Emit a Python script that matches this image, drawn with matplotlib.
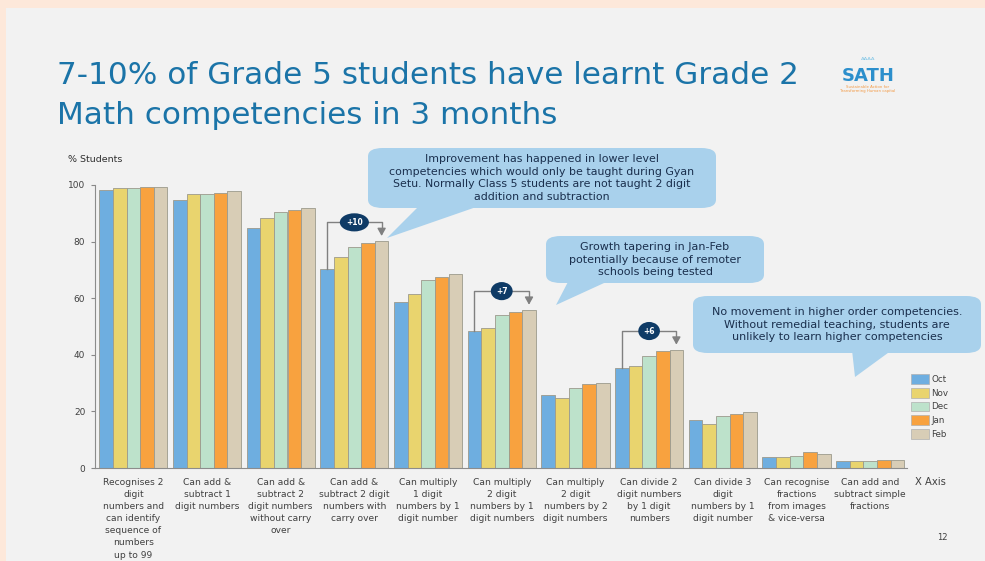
import matplotlib
matplotlib.use("Agg")
import matplotlib.pyplot as plt
import numpy as np
from matplotlib.patches import FancyBboxPatch, Polygon, Rectangle, Patch

W, H = 985, 561
plt.rcParams['font.family'] = ['DejaVu Sans']

categories = [
    "Recognises 2\ndigit\nnumbers and\ncan identify\nsequence of\nnumbers\nup to 99",
    "Can add &\nsubtract 1\ndigit numbers",
    "Can add &\nsubtract 2\ndigit numbers\nwithout carry\nover",
    "Can add &\nsubtract 2 digit\nnumbers with\ncarry over",
    "Can multiply\n1 digit\nnumbers by 1\ndigit number",
    "Can multiply\n2 digit\nnumbers by 1\ndigit numbers",
    "Can multiply\n2 digit\nnumbers by 2\ndigit numbers",
    "Can divide 2\ndigit numbers\nby 1 digit\nnumbers",
    "Can divide 3\ndigit\nnumbers by 1\ndigit number",
    "Can recognise\nfractions\nfrom images\n& vice-versa",
    "Can add and\nsubtract simple\nfractions",
]
months = ["Oct", "Nov", "Dec", "Jan", "Feb"]
oct_vals = [98.2, 94.7, 84.7, 70.3, 58.8, 48.5, 25.9, 35.3, 17.0, 3.9, 2.3]
nov_vals = [98.8, 96.7, 88.5, 74.7, 61.5, 49.4, 24.9, 35.9, 15.5, 3.9, 2.3]
dec_vals = [98.8, 96.7, 90.6, 78.0, 66.5, 53.9, 28.2, 39.6, 18.2, 4.3, 2.3]
jan_vals = [99.4, 97.3, 91.2, 79.4, 67.6, 55.3, 29.8, 41.4, 19.1, 5.5, 2.9]
feb_vals = [99.4, 97.9, 91.8, 80.2, 68.6, 55.9, 30.2, 41.8, 19.8, 5.0, 2.8]
series = [oct_vals, nov_vals, dec_vals, jan_vals, feb_vals]
colors = ["#6eaee0", "#e9d46e", "#bde2cb", "#f8a23f", "#d8cdb6"]
yticks = [0, 20, 40, 60, 80, 100]
gains = [(3, "+10"), (5, "+7"), (7, "+6")]

fig = plt.figure(figsize=(W / 100, H / 100), dpi=100)
fig.patch.set_facecolor("#f2f2f2")

def fx(x):
    return x / W

def fy(y):
    return 1 - y / H

# peach slide border
fig.add_artist(Rectangle((0, fy(8)), 1, 8 / H, transform=fig.transFigure,
                         facecolor="#fde8da", edgecolor="none", zorder=0))
fig.add_artist(Rectangle((0, 0), 6 / W, 1, transform=fig.transFigure,
                         facecolor="#fde8da", edgecolor="none", zorder=0))

# title
tcol = "#1b74a8"
fig.text(fx(57), fy(76), "7-10% of Grade 5 students have learnt Grade 2",
         fontsize=22.4, color=tcol, va="center", ha="left")
fig.text(fx(57), fy(115), "Math competencies in 3 months",
         fontsize=22.4, color=tcol, va="center", ha="left")

# logo
fig.text(fx(868), fy(76), "SATH", fontsize=13, fontweight="bold",
         color="#2c8fcc", ha="center", va="center")
fig.text(fx(868), fy(61), "ᴬᴬᴬᴬ", fontsize=6, color="#7cc4e6", ha="center", va="center")
fig.text(fx(868), fy(89), "Sustainable Action for\nTransforming Human capital",
         fontsize=2.8, color="#f39a45", ha="center", va="center", linespacing=1.0)

ax = fig.add_axes([fx(95), 1 - 468 / H, 812 / W, 283 / H])
ax.set_facecolor("none")
x = np.arange(len(categories))
w = 0.185
for k, (vals, c, m) in enumerate(zip(series, colors, months)):
    ax.bar(x + (k - 2) * w, vals, width=w, color=c, edgecolor="#9c9a8c",
           linewidth=0.6, label=m, zorder=2)

ax.set_xlim(-0.52, 10.5)
ax.set_ylim(0, 100)
ax.set_yticks(yticks)
ax.set_yticklabels([str(v) for v in yticks], fontsize=6.5, color="#404040")
ax.set_xticks(x)
ax.set_xticklabels(categories, fontsize=6.6, color="#404040", linespacing=1.45,
                   va="top")
ax.tick_params(axis="x", length=0, pad=7)
ax.tick_params(axis="y", length=3, color="#888888", pad=4)
for s in ["top", "right"]:
    ax.spines[s].set_visible(False)
for s in ["left", "bottom"]:
    ax.spines[s].set_color("#8c8c8c")
    ax.spines[s].set_linewidth(0.8)

fig.text(fx(68), fy(160), "% Students", fontsize=6.8, color="#303030",
         ha="left", va="center")
fig.text(fx(930), fy(482), "X Axis", fontsize=7.2, color="#404040",
         ha="center", va="center")
fig.text(fx(942), fy(537), "12", fontsize=6, color="#404040",
         ha="center", va="center")

# gain brackets
for gi, lab in gains:
    x0 = gi - 2 * w
    x1 = gi + 2 * w
    ytop = series[4][gi] + 6.6
    ax.plot([x0, x0, x1, x1], [series[0][gi], ytop, ytop, ytop - 2.5],
            color="#808080", lw=1.0, zorder=3, clip_on=False)
    ax.annotate("", xy=(x1, series[4][gi] + 0.8), xytext=(x1, ytop - 2.0),
                arrowprops=dict(arrowstyle="-|>,head_width=0.25,head_length=0.45",
                                color="#808080", lw=1.0), zorder=3)
    ax.text((x0 + x1) / 2, ytop, lab, fontsize=5.5, color="white",
            fontweight="bold", ha="center", va="center", zorder=5,
            bbox=dict(boxstyle="ellipse,pad=0.25", facecolor="#0f3b66",
                      edgecolor="none"))

# legend
handles = [Patch(facecolor=c, edgecolor="#b0b0b0", linewidth=0.5) for c in colors]
fig.legend(handles, months, loc="upper left", bbox_to_anchor=(fx(911), fy(374)),
           frameon=False, fontsize=6.3, handlelength=2.1, handleheight=1.35,
           labelspacing=0.45, handletextpad=0.25, borderpad=0, borderaxespad=0,
           labelcolor="#404040")

# callouts
bfill = "#a9d1ec"
tcolor = "#1a2f4d"

def callout(x0, y0, x1, y1, tail, text, fs):
    fig.add_artist(Polygon([(fx(px), fy(py)) for px, py in tail],
                           closed=True, transform=fig.transFigure,
                           facecolor=bfill, edgecolor="none", zorder=6))
    fig.add_artist(FancyBboxPatch((fx(x0), fy(y1)), fx(x1) - fx(x0), fy(y0) - fy(y1),
                                  boxstyle="round,pad=0,rounding_size=0.015",
                                  transform=fig.transFigure, facecolor=bfill,
                                  edgecolor="none", zorder=6))
    fig.text(fx((x0 + x1) / 2), fy((y0 + y1) / 2), text, fontsize=fs,
             color=tcolor, ha="center", va="center", linespacing=1.3,
             zorder=7)

callout(368, 148, 716, 208,
        [(420, 205), (482, 205), (387, 238)],
        "Improvement has happened in lower level\n"
        "competencies which would only be taught during Gyan\n"
        "Setu. Normally Class 5 students are not taught 2 digit\n"
        "addition and subtraction", 7.9)
callout(546, 236, 764, 283,
        [(570, 278), (615, 278), (556, 305)],
        "Growth tapering in Jan-Feb\n"
        "potentially because of remoter\n"
        "schools being tested", 8.0)
callout(693, 296, 981, 353,
        [(852, 350), (892, 350), (855, 377)],
        "No movement in higher order competencies.\n"
        "Without remedial teaching, students are\n"
        "unlikely to learn higher competencies", 8.0)

fig.savefig("out.png", dpi=100, facecolor=fig.get_facecolor())
